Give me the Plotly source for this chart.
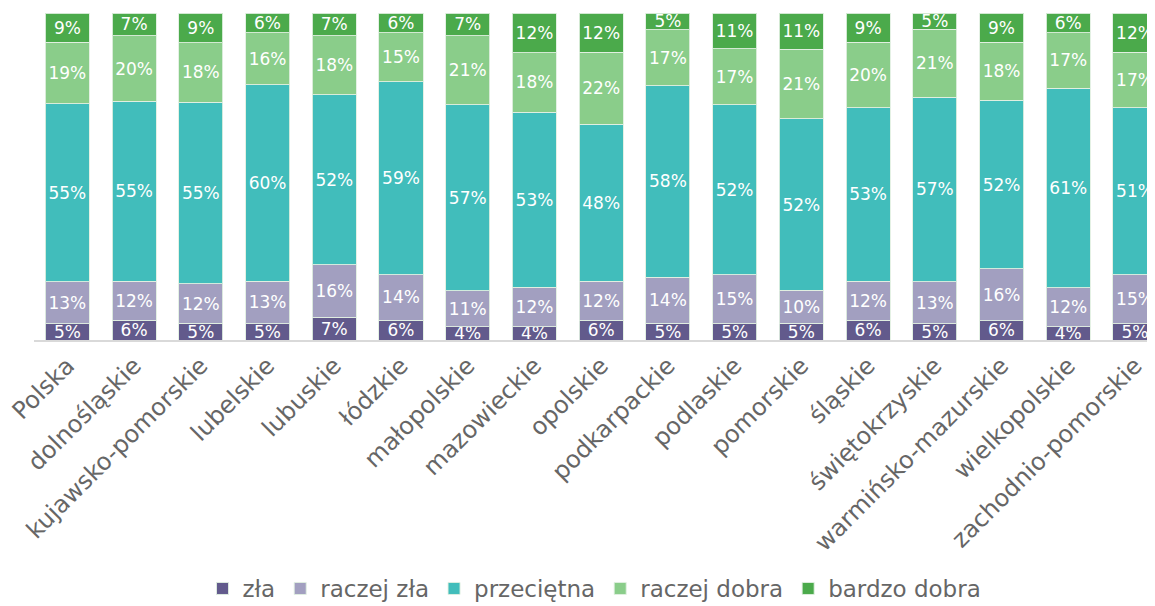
import plotly.graph_objects as go

# ─── Dane ──────────────────────────────────────────────────────────────────────
regiony = [
    "Polska", "dolnośląskie", "kujawsko-pomorskie", "lubelskie", "lubuskie",
    "łódzkie", "małopolskie", "mazowieckie", "opolskie", "podkarpackie",
    "podlaskie", "pomorskie", "śląskie", "świętokrzyskie",
    "warmińsko-mazurskie", "wielkopolskie", "zachodnio-pomorskie",
]

zla =          [5, 6, 5, 5, 7, 6, 4, 4, 6, 5, 5, 5, 6, 5, 6, 4, 5]
raczej_zla =   [13, 12, 12, 13, 16, 14, 11, 12, 12, 14, 15, 10, 12, 13, 16, 12, 15]
przecietna =   [55, 55, 55, 60, 52, 59, 57, 53, 48, 58, 52, 52, 53, 57, 52, 61, 51]
raczej_dobra = [19, 20, 18, 16, 18, 15, 21, 18, 22, 17, 17, 21, 20, 21, 18, 17, 17]
bardzo_dobra = [9, 7, 9, 6, 7, 6, 7, 12, 12, 5, 11, 11, 9, 5, 9, 6, 12]

SERIE = [
    ("zła", zla, "#625A8C"),
    ("raczej zła", raczej_zla, "#A29FC0"),
    ("przeciętna", przecietna, "#41BDBB"),
    ("raczej dobra", raczej_dobra, "#8ACD8A"),
    ("bardzo dobra", bardzo_dobra, "#4BAA4B"),
]

FONT = "'DejaVu Sans', sans-serif"
SZARY = "#666666"

fig = go.Figure()
for nazwa, wartosci, kolor in SERIE:
    fig.add_trace(
        go.Bar(
            x=regiony,
            y=wartosci,
            name=nazwa,
            marker=dict(color=kolor, line=dict(color="rgba(225,240,225,0.9)", width=1)),
            text=[f"{v}%" for v in wartosci],
            textposition="inside",
            insidetextanchor="middle",
            textangle=0,
            constraintext="none",
            textfont=dict(family=FONT, size=17, color="white"),
            hovertemplate="<b>%{x}</b><br>" + nazwa + ": %{text}<extra></extra>",
        )
    )

# strona ma 8px marginesu body, więc figura jest mniejsza o te 8px
fig.update_layout(
    barmode="stack",
    barnorm="percent",
    bargap=0.34,
    width=1147,
    height=598,
    paper_bgcolor="white",
    plot_bgcolor="white",
    font=dict(family=FONT, color=SZARY),
    margin=dict(l=26, r=0, t=5, b=266, autoexpand=False),
    uniformtext=dict(minsize=17, mode="show"),
    xaxis=dict(
        range=[-0.5, 16.3],
        tickangle=-45,
        tickfont=dict(size=24, color=SZARY),
        showline=True,
        linecolor="#D9D9D9",
        linewidth=2,
        showgrid=False,
        ticks="",
        automargin=False,
    ),
    yaxis=dict(
        range=[0, 100],
        visible=False,
        showgrid=False,
    ),
    legend=dict(
        orientation="h",
        traceorder="normal",
        x=0.5,
        xanchor="center",
        y=-0.76,
        yanchor="middle",
        font=dict(size=23, color=SZARY),
        itemwidth=30,
    ),
    showlegend=True,
)

fig.write_html("out.html")
